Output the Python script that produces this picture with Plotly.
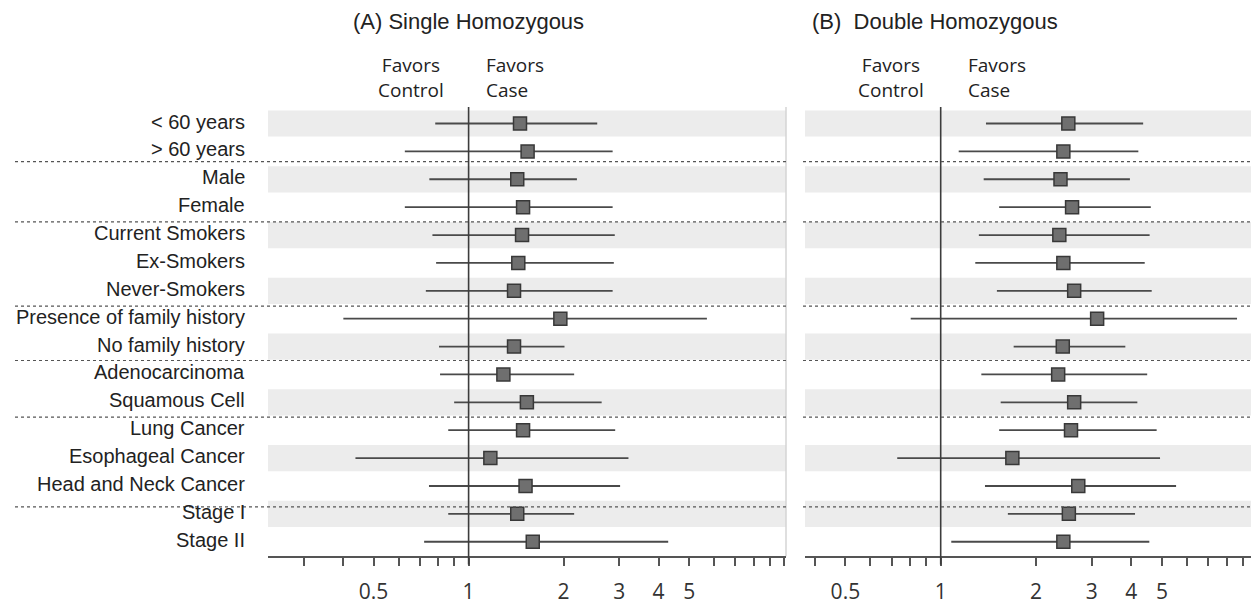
import plotly.graph_objects as go

# ---------------- data ----------------
labels = ["< 60 years", "> 60 years", "Male", "Female", "Current Smokers",
          "Ex-Smokers", "Never-Smokers", "Presence of family history",
          "No family history", "Adenocarcinoma", "Squamous Cell",
          "Lung Cancer", "Esophageal Cancer", "Head and Neck Cancer",
          "Stage I", "Stage II"]

single_or = [1.455, 1.538, 1.426, 1.488, 1.477, 1.437, 1.393, 1.953,
             1.393, 1.289, 1.530, 1.488, 1.172, 1.515, 1.426, 1.597]
single_lo = [0.784, 0.628, 0.751, 0.628, 0.768, 0.789, 0.732, 0.401,
             0.806, 0.812, 0.900, 0.862, 0.438, 0.749, 0.862, 0.723]
single_hi = [2.556, 2.860, 2.204, 2.860, 2.905, 2.885, 2.860, 5.690,
             2.013, 2.160, 2.640, 2.914, 3.210, 3.020, 2.160, 4.290]

double_or = [2.53, 2.44, 2.39, 2.60, 2.37, 2.44, 2.64, 3.12,
             2.43, 2.35, 2.64, 2.58, 1.684, 2.72, 2.54, 2.44]
double_lo = [1.39, 1.14, 1.367, 1.53, 1.32, 1.286, 1.505, 0.804,
             1.70, 1.344, 1.547, 1.53, 0.729, 1.38, 1.63, 1.08]
double_hi = [4.36, 4.21, 3.96, 4.61, 4.57, 4.41, 4.64, 8.63,
             3.83, 4.49, 4.18, 4.81, 4.93, 5.54, 4.11, 4.56]

tick_vals_left = [0.3, 0.4, 0.5, 0.6, 0.7, 0.8, 0.9, 1, 2, 3, 4, 5, 6, 7, 8, 9, 10]
tick_vals_right = [0.4, 0.5, 0.6, 0.7, 0.8, 0.9, 1, 2, 3, 4, 5, 6, 7, 8, 9, 10]
tick_labelled = {0.5: "0.5", 1: "1", 2: "2", 3: "3", 4: "4", 5: "5"}

group_breaks = [1.37, 3.53, 6.55, 8.5, 10.53, 13.75]

# ---------------- layout constants ----------------
# the page body has an 8px margin, so the figure is offset by 8px
OFF = 8
W, H = 1259 - OFF, 605 - OFF
def px(x):
    return (x - OFF) / W
def py(y):
    return 1 - (y - OFF) / H

PLOT_TOP, PLOT_BOTTOM = 107.7, 560.0
Y_RANGE = [15.522, -0.591]

LINE_COL = "#4a4a4a"
BOX_FILL = "#6f6f6f"
BOX_EDGE = "#383838"
BAND_COL = "#ececec"
TEXT_COL = "#222222"

fig = go.Figure()

def add_panel(xname, yname, est, lo, hi):
    xs, ys = [], []
    for i in range(len(est)):
        xs += [lo[i], hi[i], None]
        ys += [i, i, None]
    fig.add_trace(go.Scatter(x=xs, y=ys, mode="lines", xaxis=xname, yaxis=yname,
                             line=dict(color=LINE_COL, width=1.8),
                             hoverinfo="skip", showlegend=False))
    fig.add_trace(go.Scatter(x=est, y=list(range(len(est))), mode="markers",
                             xaxis=xname, yaxis=yname,
                             marker=dict(symbol="square", size=13, color=BOX_FILL,
                                         line=dict(color=BOX_EDGE, width=1.5)),
                             text=labels, showlegend=False))

add_panel("x", "y", single_or, single_lo, single_hi)
add_panel("x2", "y2", double_or, double_lo, double_hi)

shapes = []
for xr, yr in (("x", "y"), ("x2", "y2")):
    for i in range(0, len(labels), 2):
        y0 = max(i - 0.47, Y_RANGE[1])
        shapes.append(dict(type="rect", xref=f"{xr} domain", yref=yr,
                           x0=0, x1=1, y0=y0, y1=i + 0.47,
                           fillcolor=BAND_COL, line_width=0, layer="below"))
    shapes.append(dict(type="line", xref=f"{xr} domain", yref=f"{yr} domain",
                       x0=1, x1=1, y0=0, y1=1,
                       line=dict(color="#d4d4d4", width=1.5), layer="below"))
    shapes.append(dict(type="line", xref=xr, yref=f"{yr} domain",
                       x0=1, x1=1, y0=-0.018, y1=1,
                       line=dict(color="#3c3c3c", width=1.6), layer="above"))

for b in group_breaks:
    shapes.append(dict(type="line", xref="paper", yref="y", x0=px(15), x1=px(786),
                       y0=b, y1=b, line=dict(color="#555555", width=1.2, dash="3px,3px")))
    shapes.append(dict(type="line", xref="paper", yref="y2", x0=px(803), x1=1,
                       y0=b, y1=b, line=dict(color="#555555", width=1.2, dash="3px,3px")))

annotations = []
for i, lab in enumerate(labels):
    annotations.append(dict(text=lab, xref="paper", yref="y", x=px(247), y=i,
                            xanchor="right", yanchor="middle", showarrow=False,
                            yshift=2,
                            font=dict(family="Liberation Sans, Arial", size=20, color=TEXT_COL)))

hdr_font = dict(family="Liberation Sans, Arial", size=22, color=TEXT_COL)
annotations.append(dict(text="(A) Single Homozygous", xref="paper", yref="paper",
                        x=px(351), y=py(21.7), xanchor="left", yanchor="middle",
                        showarrow=False, font=hdr_font))
annotations.append(dict(text="(B)  Double Homozygous", xref="paper", yref="paper",
                        x=px(810), y=py(21.7), xanchor="left", yanchor="middle",
                        showarrow=False, font=hdr_font))

fav_font = dict(family="Open Sans", size=19, color=TEXT_COL)
for ctrl_x, case_x in ((411, 484), (891, 965.5)):
    annotations.append(dict(text="Favors<br>Control", xref="paper", yref="paper",
                            x=px(ctrl_x), y=py(78), align="center",
                            xanchor="center", yanchor="middle", showarrow=False, font=fav_font))
    annotations.append(dict(text="Favors<br>Case", xref="paper", yref="paper",
                            x=px(case_x), y=py(78), align="left",
                            xanchor="left", yanchor="middle", showarrow=False, font=fav_font))

def xaxis_cfg(domain, rng, tv, anchor):
    return dict(type="log", domain=domain, range=rng, anchor=anchor,
                tickvals=tv, ticktext=[tick_labelled.get(v, "") for v in tv],
                ticks="outside", ticklen=8, tickwidth=1.5, tickcolor="#555555",
                showline=True, linecolor="#555555", linewidth=1.5,
                showgrid=False, zeroline=False, fixedrange=True,
                ticklabelstandoff=8,
                tickfont=dict(family="Open Sans", size=21, color="#333333"))

def yaxis_cfg(anchor):
    return dict(domain=[py(PLOT_BOTTOM), py(PLOT_TOP)], range=Y_RANGE, anchor=anchor,
                showticklabels=False, showgrid=False, zeroline=False,
                showline=False, ticks="", fixedrange=True)

fig.update_layout(
    width=W, height=H,
    margin=dict(l=0, r=0, t=0, b=0),
    paper_bgcolor="white", plot_bgcolor="rgba(0,0,0,0)",
    xaxis=xaxis_cfg([px(268), px(786)], [-0.6356, 1.0057], tick_vals_left, "y"),
    xaxis2=xaxis_cfg([px(805), px(1257)], [-0.4286, 0.9991], tick_vals_right, "y2"),
    yaxis=yaxis_cfg("x"),
    yaxis2=yaxis_cfg("x2"),
    shapes=shapes,
    annotations=annotations,
    showlegend=False,
)

fig.write_html("out.html")
